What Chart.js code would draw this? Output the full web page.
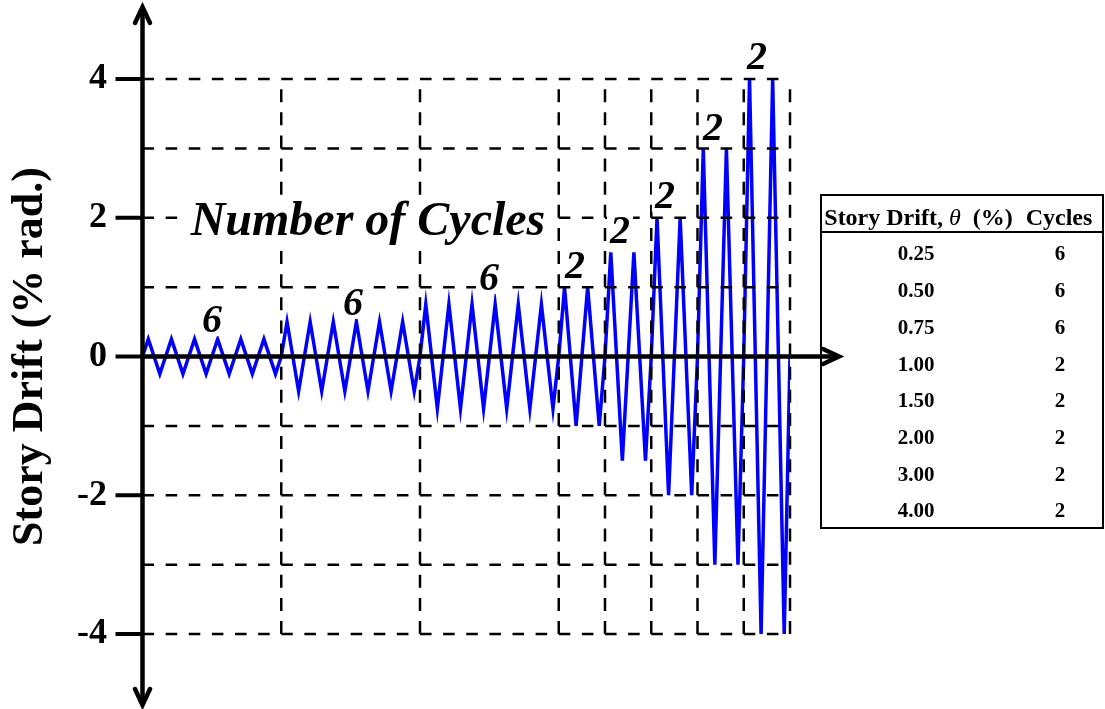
<!DOCTYPE html>
<html>
<head>
<meta charset="utf-8">
<title>Story Drift Loading Protocol</title>
<script src="https://cdn.jsdelivr.net/npm/chart.js@4/dist/chart.umd.min.js"></script>
<style>
  html, body { margin: 0; padding: 0; background: #fff; }
  #wrap { position: relative; width: 1105px; height: 709px; overflow: hidden; }
  #c { position: absolute; left: 0; top: 0; }
  .txt { position: absolute; font-family: "Liberation Serif", "Times New Roman", serif; font-weight: bold;
         color: #000; text-align: center; white-space: pre; }
  .box { position: absolute; box-sizing: border-box; border: 2px solid #000; }
  .rule { position: absolute; background: #000; }
</style>
</head>
<body>
<div id="wrap">
  <canvas id="c" width="1105" height="709"></canvas>
  <div id="protocol"></div>
</div>
<script>
// Loading protocol: drift amplitude (% rad.) and number of cycles at each step
const driftLevels = [0.25, 0.50, 0.75, 1.00, 1.50, 2.00, 3.00, 4.00];
const cycleCounts = [6, 6, 6, 2, 2, 2, 2, 2];
// Labelled y ticks and dashed grid levels
const driftTicks = [-4, -2, 0, 2, 4];
const gridLevels = [-4, -3, -2, -1, 1, 2, 3, 4];
const tableHeader = ['Story Drift, ', '\u03B8', '\u00A0 (%)', 'Cycles'];

const SERIF = '"Liberation Serif", "Times New Roman", serif';

// Step boundaries in cycle units: 0, 6, 12, 18, 20, ...
const stepEdges = [0];
cycleCounts.forEach(n => stepEdges.push(stepEdges[stepEdges.length - 1] + n));

// Triangular drift history: +amp, -amp for every cycle of every step
const history = [];
let t = 0;
driftLevels.forEach((amp, i) => {
  for (let c = 0; c < cycleCounts[i]; c++) {
    history.push({ x: t, y: 0 }, { x: t + 0.25, y: amp }, { x: t + 0.75, y: -amp });
    t += 1;
  }
});
history.push({ x: t, y: 0 });

// Where each "number of cycles" label sits (x in cycles, baseline in % rad.)
const stepLabelAnchors = [
  [3.00, 0.35], [9.10, 0.60], [14.98, 0.96], [18.70, 1.13],
  [20.65, 1.64], [22.59, 2.14], [24.67, 3.12], [26.57, 4.14]
];
const captionAnchor = [9.75, 1.75];

function stroke(ctx, pts) {
  ctx.beginPath();
  ctx.moveTo(pts[0][0], pts[0][1]);
  for (let i = 1; i < pts.length; i++) ctx.lineTo(pts[i][0], pts[i][1]);
  ctx.stroke();
}

function labelWithBackground(ctx, text, cx, base, font, padX, top, bottom) {
  ctx.font = font;
  const w = ctx.measureText(text).width;
  ctx.fillStyle = '#fff';
  ctx.fillRect(cx - w / 2 - padX, base - top, w + 2 * padX, top + bottom);
  ctx.fillStyle = '#000';
  ctx.textAlign = 'center';
  ctx.textBaseline = 'alphabetic';
  ctx.fillText(text, cx, base);
}

const overlay = {
  id: 'overlay',
  afterDatasetsDraw(chart) {
    const { ctx, scales: { x, y } } = chart;
    const left = x.getPixelForValue(0);
    const y0 = y.getPixelForValue(0);
    ctx.save();

    // dashed grid, drawn cell by cell
    ctx.strokeStyle = '#000';
    ctx.lineWidth = 2.5;
    ctx.lineCap = 'butt';
    const px = x.getPixelForValue(1) - x.getPixelForValue(0);
    ctx.setLineDash([px * 0.5, px * 0.5]);
    gridLevels.forEach(v => {
      const py = y.getPixelForValue(v);
      for (let i = 0; i < stepEdges.length - 1; i++) {
        stroke(ctx, [[x.getPixelForValue(stepEdges[i]), py], [x.getPixelForValue(stepEdges[i + 1]), py]]);
      }
    });
    const cellH = y.getPixelForValue(0) - y.getPixelForValue(1);
    ctx.setLineDash([cellH / 3 * 0.56, cellH / 3 * 0.44]);
    const rows = [-4, -3, -2, -1, 0, 1, 2, 3, 4];
    stepEdges.slice(1).forEach(e => {
      const ex = x.getPixelForValue(e);
      for (let k = 0; k < rows.length - 1; k++) {
        stroke(ctx, [[ex, y.getPixelForValue(rows[k])], [ex, y.getPixelForValue(rows[k + 1])]]);
      }
    });
    ctx.setLineDash([]);

    // number of cycles per step
    const labelFont = 'italic bold 40px ' + SERIF;
    cycleCounts.forEach((n, i) => {
      const [ax, ay] = stepLabelAnchors[i];
      labelWithBackground(ctx, String(n), x.getPixelForValue(ax), y.getPixelForValue(ay), labelFont, 3, 31, 4);
    });
    labelWithBackground(ctx, 'Number of Cycles', x.getPixelForValue(captionAnchor[0]),
      y.getPixelForValue(captionAnchor[1]), 'italic bold 48px ' + SERIF, 8, 39, 13);

    // axes with arrow heads
    ctx.strokeStyle = '#000';
    ctx.lineWidth = 4.5;
    ctx.lineCap = 'round';
    ctx.lineJoin = 'miter';
    const topTip = 7, botTip = 705, rightTip = 839;
    stroke(ctx, [[left, topTip + 2], [left, botTip - 2]]);
    stroke(ctx, [[left - 7.5, topTip + 16], [left, topTip], [left + 7.5, topTip + 16]]);
    stroke(ctx, [[left - 7.5, botTip - 16], [left, botTip], [left + 7.5, botTip - 16]]);
    ctx.lineCap = 'butt';
    stroke(ctx, [[left, y0], [rightTip - 2, y0]]);
    ctx.lineCap = 'round';
    stroke(ctx, [[rightTip - 16, y0 - 7.5], [rightTip, y0], [rightTip - 16, y0 + 7.5]]);

    // tick marks at labelled drift values
    ctx.lineWidth = 4;
    ctx.lineCap = 'butt';
    driftTicks.forEach(v => {
      const py = y.getPixelForValue(v);
      stroke(ctx, [[left - 27, py], [left, py]]);
    });
    ctx.restore();
  }
};

new Chart(document.getElementById('c'), {
  type: 'line',
  data: {
    datasets: [{
      data: history,
      borderColor: '#0000ff',
      borderWidth: 3.5,
      borderJoinStyle: 'miter',
      pointRadius: 0,
      tension: 0,
      fill: false
    }]
  },
  options: {
    responsive: false,
    animation: false,
    devicePixelRatio: 1,
    layout: { padding: { left: 0, top: 79, right: 315, bottom: 75 } },
    plugins: { legend: { display: false }, tooltip: { enabled: false } },
    scales: {
      x: { type: 'linear', min: 0, max: stepEdges[stepEdges.length - 1], display: false },
      y: {
        min: -4, max: 4,
        afterFit(scale) { scale.width = 142.5; },
        afterBuildTicks(scale) { scale.ticks = driftTicks.map(v => ({ value: v })); },
        ticks: {
          color: '#000',
          padding: 35.5,
          font: { family: SERIF, size: 36, weight: 'bold' }
        },
        grid: { display: false, drawTicks: false },
        border: { display: false },
        title: {
          display: true,
          text: 'Story Drift (% rad.)',
          color: '#000',
          padding: { top: 4, bottom: 0 },
          font: { family: SERIF, size: 44, weight: 'bold' }
        }
      }
    }
  },
  plugins: [overlay]
});

// Protocol table beside the chart
(function buildTable() {
  const host = document.getElementById('protocol');
  const add = (cls, css) => {
    const d = document.createElement('div');
    d.className = cls;
    Object.assign(d.style, css);
    host.appendChild(d);
    return d;
  };
  add('box', { left: '820px', top: '194px', width: '284px', height: '335px' });
  add('rule', { left: '820px', top: '230.5px', width: '284px', height: '2px' });

  const textAt = (cx, baseline, size, w) => {
    return add('txt', {
      left: (cx - w / 2) + 'px', width: w + 'px',
      top: (baseline - 0.8375 * size) + 'px',
      fontSize: size + 'px', lineHeight: size + 'px'
    });
  };
  const head = textAt(918.5, 225, 24, 200);
  head.appendChild(document.createTextNode(tableHeader[0]));
  const th = document.createElement('span');
  th.style.fontStyle = 'italic';
  th.style.fontWeight = 'normal';
  th.textContent = tableHeader[1];
  head.appendChild(th);
  head.appendChild(document.createTextNode(tableHeader[2]));
  textAt(1059, 225, 24, 90).textContent = tableHeader[3];

  driftLevels.forEach((d, i) => {
    const base = 261 + i * 36.71;
    textAt(916, base, 21, 90).textContent = d.toFixed(2);
    textAt(1060, base, 21, 60).textContent = String(cycleCounts[i]);
  });
})();
</script>
</body>
</html>
